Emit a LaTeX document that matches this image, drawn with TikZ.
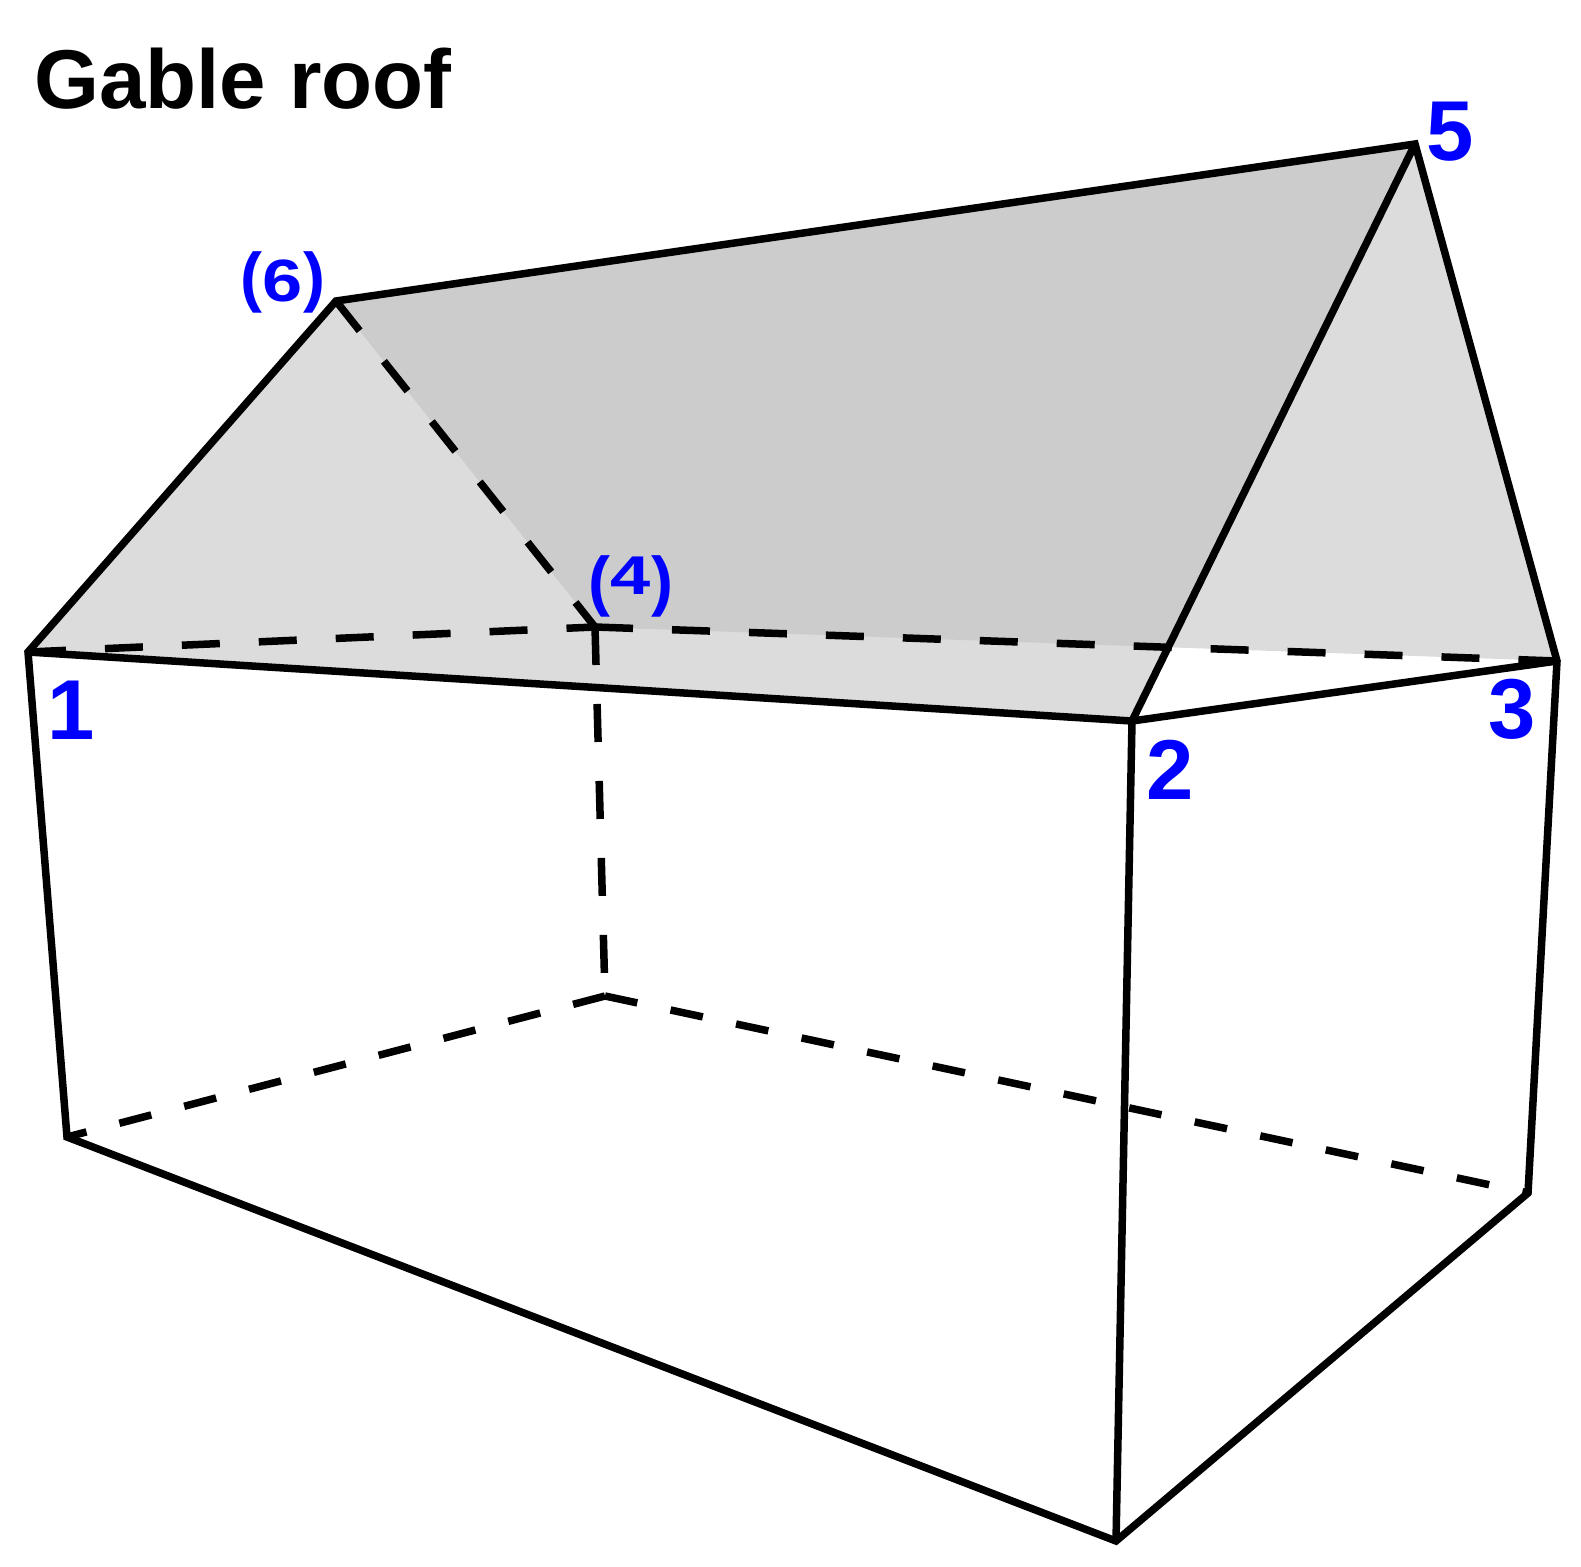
\documentclass[tikz,border=0pt]{standalone}
\usepackage{fontspec}
\setmainfont{Liberation Sans}
\definecolor{roofLight}{RGB}{220,220,220}
\definecolor{roofDark}{RGB}{204,204,204}
\definecolor{labelBlue}{RGB}{0,0,255}
\newcommand{\squashdigit}[3]{{\fontsize{84}{84}\selectfont\scalebox{#1}[#2]{#3}}}
\begin{document}
\begin{tikzpicture}[x=1pt,y=-1pt,
  edge/.style={line width=7.5pt, line join=miter, line cap=butt},
  hiddenup/.style={line width=7.5pt, line cap=butt, dash pattern=on 38pt off 39pt},
  hiddenlow/.style={line width=7.5pt, line cap=butt, dash pattern=on 33pt off 34pt},
  vlabel/.style={text=labelBlue, font=\fontsize{85}{85}\selectfont\bfseries, inner sep=0pt, anchor=base},
  plabel/.style={text=labelBlue, font=\fontsize{66}{66}\selectfont\bfseries, inner sep=0pt, anchor=base},
  titlestyle/.style={text=black, font=\fontsize{83.5}{84}\selectfont\bfseries, inner sep=0pt, anchor=base west}]
\useasboundingbox (0,0) rectangle (1581,1566);
% vertices
\coordinate (P1) at (28,652);
\coordinate (P2) at (1132,721);
\coordinate (P3) at (1557,661);
\coordinate (P4) at (595,627);
\coordinate (P5) at (1415,144);
\coordinate (P6) at (336,301);
\coordinate (B1) at (67,1137);
\coordinate (B2) at (1116,1541);
\coordinate (B3) at (1528,1193);
\coordinate (B4) at (605,996);
\coordinate (X) at (intersection of P5--P2 and P4--P3);
% roof fills
\fill[roofLight] (P1) -- (P6) -- (P5) -- (P3) -- (X) -- (P2) -- cycle;
\fill[roofDark] (P6) -- (P5) -- (X) -- (P4) -- cycle;
% hidden edges
\draw[hiddenup] (P1) -- (P4);
\draw[hiddenup] (P4) -- (P3);
\draw[hiddenup] (P6) -- (P4);
\draw[hiddenup] (P4) -- (B4);
\draw[hiddenlow] (B4) -- (B1);
\draw[hiddenlow] (B4) -- (B3);
% visible edges
\draw[edge] (B1) -- (P1) -- (P6) -- (P5) -- (P3) -- (B3) -- (B2) -- cycle;
\draw[edge] (P1) -- (P2) -- (P3);
\draw[edge] (P5) -- (P2) -- (B2);
% labels
\node[titlestyle] (title) at (34,108) {Gable roof};
\node[vlabel] (L1) at (71,739) {1};
\node[vlabel] (L2) at (1170,799) {2};
\node[vlabel] (L3) at (1512,738) {3};
\node[vlabel] (L5) at (1450,160) {5};
\node[plabel] (L4) at (631,603) {(\raisebox{9pt}{\squashdigit{0.86}{0.65}{4}})};
\node[plabel] (L6) at (283,299) {(\raisebox{-2pt}{\squashdigit{0.86}{0.71}{6}})};
\end{tikzpicture}
\end{document}
